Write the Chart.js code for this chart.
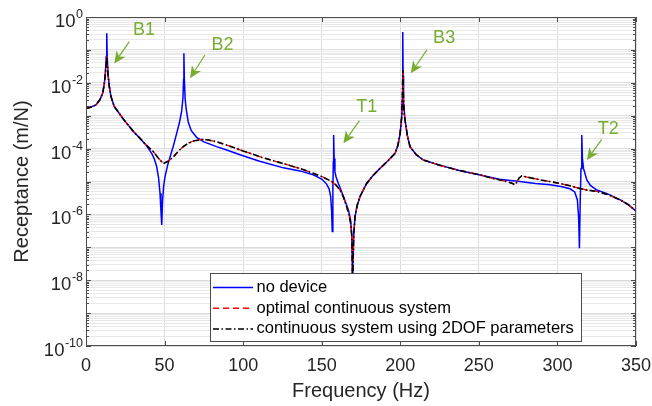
<!DOCTYPE html>
<html><head><meta charset="utf-8">
<script src="https://cdn.jsdelivr.net/npm/chart.js@4.4.1/dist/chart.umd.min.js"></script>
<style>html,body{margin:0;padding:0;background:#fff;}canvas{display:block;}</style>
</head><body>
<canvas id="c" width="652" height="406"></canvas>
<script>
// ---------- data ----------
const freqNoDevice = [0,3,6.4,9,10.6,11.6,12.3,12.9,13.2,13.5,14.0,14.8,15.9,18,21.2,24,27.6,30.5,33.9,38,41.8,43.5,45,46.2,47.1,47.7,48.2,48.7,49.4,50.3,52,53.5,55.6,57.7,59.5,60.9,61.7,62.1,62.3,62.6,63.1,63.7,65.1,67,70.4,75,83.1,90,98,110,125.6,136.2,145,150.2,153,154.7,155.7,156.3,156.7,157.1,157.4,157.6,157.9,158.4,159.1,160.6,162.2,163.8,165.5,167,168.3,169.1,169.5,169.7,169.9,170.4,171.2,172.6,174.4,176.5,178.6,182.5,187.1,192,196.7,198.5,199.9,200.9,201.3,201.5,201.65,201.8,202.1,203,204.5,206.2,210,214.7,224.3,237,250.8,263,276,286,295.4,303,308,311,312.7,313.5,314.0,314.5,315.0,315.5,315.9,316.6,318.7,321,325,332,340,345,350];
const recNoDevice = [1.66e-3,1.82e-3,2.14e-3,3.16e-3,4.8e-3,8.9e-3,1.95e-2,6.3e-2,3.2e-1,6.3e-2,1.95e-2,7.9e-3,3.8e-3,1.9e-3,1.17e-3,7.6e-4,4.7e-4,3.16e-4,2.19e-4,1.32e-4,7.2e-5,4.8e-5,2.8e-5,1.26e-5,4.4e-6,1.26e-6,4.8e-7,2.5e-6,7.1e-6,1.4e-5,3.2e-5,5.6e-5,1.2e-4,2.9e-4,6.3e-4,1.4e-3,3.5e-3,1.26e-2,7.9e-2,1.26e-2,3.2e-3,1.66e-3,6.3e-4,3.5e-4,2.2e-4,1.6e-4,1.15e-4,8.9e-5,6.5e-5,4.2e-5,2.6e-5,2.1e-5,1.58e-5,1.17e-5,8.5e-6,6.0e-6,3.5e-6,1.26e-6,3.0e-7,6.3e-6,4.0e-5,2.6e-4,5.0e-5,2.0e-5,1.4e-5,8.7e-6,5.6e-6,3.5e-6,2.1e-6,1.35e-6,7.1e-7,2.5e-7,2.5e-8,1e-9,2.5e-8,2.5e-7,8.5e-7,1.9e-6,3.5e-6,5.6e-6,8.7e-6,1.5e-5,2.5e-5,4.2e-5,7.2e-5,1.26e-4,2.9e-4,9.3e-4,3.2e-3,1.6e-2,3.5e-1,1.6e-2,2.5e-3,7.4e-4,2.5e-4,1.15e-4,6.6e-5,4.5e-5,3.2e-5,2.2e-5,1.58e-5,1.17e-5,1.0e-5,8.7e-6,7.9e-6,6.9e-6,6.0e-6,4.8e-6,2.75e-6,7.9e-7,9.3e-8,2.5e-6,2.5e-5,2.6e-4,5.0e-5,2.5e-5,1.12e-5,7.6e-6,5.5e-6,4.2e-6,2.75e-6,2.0e-6,1.26e-6];

const freqContinuous = [0,3,6.4,9,10.6,11.6,12.3,12.9,13.2,13.5,14.0,14.8,15.9,18,21.2,24,27.6,30.5,34.4,38.5,42.8,46,49.2,52.5,55.6,58.8,61.9,65,68.3,73.6,78,83.1,90,100,112,125.6,136,143,150.2,156.4,159,161.7,164,165.9,167.3,168.4,169.2,169.5,169.7,169.9,170.4,171.2,172.6,174.4,176.5,178.6,182.5,187.1,192,196.7,198.5,199.9,200.9,201.3,201.65,202.0,202.4,203,204.5,206.2,210,214.7,224.3,237,250.8,260,267.8,271,273,274.5,275.5,277.3,283,289,295,301.7,308,313.4,318.7,325,332,340,345,350];
const recOptimal = [1.66e-3,1.82e-3,2.14e-3,3.16e-3,4.8e-3,8.9e-3,1.78e-2,4.0e-2,6.3e-2,4.0e-2,1.78e-2,7.9e-3,3.8e-3,1.9e-3,1.17e-3,7.6e-4,4.7e-4,3.16e-4,2.04e-4,1.26e-4,8.1e-5,5.2e-5,3.5e-5,4.2e-5,5.6e-5,8.3e-5,1.15e-4,1.45e-4,1.7e-4,1.9e-4,1.82e-4,1.62e-4,1.26e-4,8.5e-5,5.4e-5,3.5e-5,2.5e-5,1.9e-5,1.4e-5,1.0e-5,7.9e-6,5.5e-6,3.2e-6,1.7e-6,1.0e-6,5.4e-7,2.0e-7,2.5e-8,1e-9,2.5e-8,2.5e-7,8.5e-7,1.9e-6,3.5e-6,5.6e-6,8.7e-6,1.5e-5,2.5e-5,4.2e-5,7.2e-5,1.26e-4,2.9e-4,9.3e-4,4.0e-3,2.45e-2,4.0e-3,1.26e-3,7.4e-4,2.5e-4,1.15e-4,6.6e-5,4.5e-5,3.2e-5,2.2e-5,1.58e-5,1.2e-5,1.0e-5,8.9e-6,7.9e-6,1.0e-5,1.26e-5,1.48e-5,1.29e-5,1.12e-5,1.0e-5,8.7e-6,7.4e-6,6.3e-6,5.5e-6,5.0e-6,4.0e-6,2.75e-6,2.0e-6,1.26e-6];
const rec2DOF = [1.66e-3,1.82e-3,2.14e-3,3.16e-3,4.8e-3,8.9e-3,1.78e-2,4.0e-2,6.3e-2,4.0e-2,1.78e-2,7.9e-3,3.8e-3,1.9e-3,1.17e-3,7.6e-4,4.7e-4,3.16e-4,2.04e-4,1.26e-4,8.1e-5,5.2e-5,3.5e-5,4.2e-5,5.6e-5,8.3e-5,1.15e-4,1.45e-4,1.7e-4,1.9e-4,1.82e-4,1.62e-4,1.26e-4,8.5e-5,5.4e-5,3.5e-5,2.5e-5,1.9e-5,1.4e-5,1.0e-5,7.9e-6,5.5e-6,3.2e-6,1.7e-6,1.0e-6,5.4e-7,2.0e-7,2.5e-8,1e-9,2.5e-8,2.5e-7,8.5e-7,1.9e-6,3.5e-6,5.6e-6,8.7e-6,1.5e-5,2.5e-5,4.2e-5,7.2e-5,1.26e-4,2.9e-4,9.3e-4,4.0e-3,2.45e-2,4.0e-3,1.26e-3,7.4e-4,2.5e-4,1.15e-4,6.6e-5,4.5e-5,3.2e-5,2.2e-5,1.58e-5,1.2e-5,1.0e-5,8.9e-6,7.9e-6,1.0e-5,1.26e-5,1.48e-5,1.29e-5,1.12e-5,1.0e-5,8.7e-6,7.4e-6,6.3e-6,5.5e-6,5.0e-6,4.0e-6,2.75e-6,2.0e-6,1.26e-6];

const xTickLabels = ['0','50','100','150','200','250','300','350'];
const xTickValues = [0,50,100,150,200,250,300,350];
const yTickExponents = [0,-2,-4,-6,-8,-10];
const seriesNames = ['no device','optimal continuous system','continuous system using 2DOF parameters'];
const xTitle = 'Frequency (Hz)';
const yTitle = 'Receptance (m/N)';

// peak annotations: label text, label anchor (Hz, m/N), arrow tail, arrow tip
const peakLabels = ['B1','B2','T1','B3','T2'];
const peakLabelPos = [[36.9,0.403],[86.9,0.141],[178.7,1.86e-3],[227.9,0.229],[332.3,3.98e-4]];
const peakArrowTail = [[27.6,0.178],[75.7,0.070],[174.0,7.1e-4],[216.9,0.100],[328.2,1.9e-4]];
const peakArrowTip  = [[18.0,0.0389],[66.2,0.0138],[163.8,1.45e-4],[206.7,0.0195],[318.7,4.47e-5]];

// ---------- styling ----------
const FONT = '"Liberation Sans", Arial, Helvetica, sans-serif';
const TEXT = '#262626';
const GREEN = '#77AC30';
const COLORS = ['#0000FF','#FF0000','#000000'];
const DASHES = [[],[6,4],[6,2.5,1.5,2.5]];
const WIDTHS = [1.5,1.3,1.6];

function pts(xs, ys){ return xs.map((f,i)=>({x:f,y:ys[i]})); }
function isDecade(v){ const l=Math.log10(v); return Math.abs(l-Math.round(l))<1e-6; }

const decor = {
  id:'decor',
  afterDatasetsDraw(chart){
    const {ctx, chartArea:a, scales:{x,y}} = chart;
    ctx.save();
    // axes box
    ctx.strokeStyle='#4d4d4d'; ctx.lineWidth=1; ctx.setLineDash([]);
    ctx.strokeRect(Math.round(a.left)+0.5, Math.round(a.top)+0.5, Math.round(a.right-a.left)-1, Math.round(a.bottom-a.top)-1);
    // x ticks (inside, top & bottom)
    ctx.beginPath();
    xTickValues.forEach(v=>{
      const px=Math.round(x.getPixelForValue(v))+0.5;
      ctx.moveTo(px,a.bottom); ctx.lineTo(px,a.bottom-5);
      ctx.moveTo(px,a.top); ctx.lineTo(px,a.top+5);
    });
    // y ticks (inside, left & right)
    y.ticks.forEach(t=>{
      const py=Math.round(y.getPixelForValue(t.value))+0.5;
      const L = isDecade(t.value)?5:3;
      ctx.moveTo(a.left,py); ctx.lineTo(a.left+L,py);
      ctx.moveTo(a.right,py); ctx.lineTo(a.right-L,py);
    });
    ctx.stroke();

    // peak annotations
    ctx.fillStyle=GREEN; ctx.strokeStyle=GREEN;
    ctx.font=`18px ${FONT}`; ctx.textAlign='center'; ctx.textBaseline='middle';
    peakLabels.forEach((lab,i)=>{
      ctx.fillText(lab, x.getPixelForValue(peakLabelPos[i][0]), y.getPixelForValue(peakLabelPos[i][1]));
      const tx=x.getPixelForValue(peakArrowTail[i][0]), ty=y.getPixelForValue(peakArrowTail[i][1]);
      const hx=x.getPixelForValue(peakArrowTip[i][0]), hy=y.getPixelForValue(peakArrowTip[i][1]);
      const dx=hx-tx, dy=hy-ty, len=Math.hypot(dx,dy), ux=dx/len, uy=dy/len, nx=-uy, ny=ux;
      const HL=12, HW=5.5, NOTCH=8.5;
      ctx.lineWidth=1.2;
      ctx.beginPath(); ctx.moveTo(tx,ty); ctx.lineTo(hx-ux*NOTCH,hy-uy*NOTCH); ctx.stroke();
      ctx.beginPath();
      ctx.moveTo(hx,hy);
      ctx.lineTo(hx-ux*HL+nx*HW, hy-uy*HL+ny*HW);
      ctx.lineTo(hx-ux*NOTCH, hy-uy*NOTCH);
      ctx.lineTo(hx-ux*HL-nx*HW, hy-uy*HL-ny*HW);
      ctx.closePath(); ctx.fill();
    });

    // legend box (inside axes, on top of the lines)
    const lx=a.left+124, ly=a.top+256, lw=371, lh=68;
    ctx.fillStyle='#fff'; ctx.fillRect(lx,ly,lw,lh);
    ctx.strokeStyle='#4d4d4d'; ctx.lineWidth=1;
    ctx.strokeRect(lx+0.5,ly+0.5,lw,lh);
    ctx.font=`16.5px ${FONT}`; ctx.textAlign='left'; ctx.textBaseline='middle';
    seriesNames.forEach((name,i)=>{
      const ry = ly+14.5+i*20.7;
      ctx.strokeStyle=COLORS[i]; ctx.lineWidth=1.5; ctx.setLineDash(DASHES[i]);
      ctx.beginPath(); ctx.moveTo(lx+3,ry); ctx.lineTo(lx+43,ry); ctx.stroke();
      ctx.setLineDash([]);
      ctx.fillStyle='#000'; ctx.fillText(name, lx+46.5, ry);
    });
    ctx.restore();
  },
  afterDraw(chart){
    const {ctx, chartArea:a, scales:{x,y}} = chart;
    ctx.save();
    ctx.fillStyle=TEXT;
    // x tick labels
    ctx.font=`18px ${FONT}`; ctx.textAlign='center'; ctx.textBaseline='middle';
    xTickValues.forEach((v,i)=>ctx.fillText(xTickLabels[i], x.getPixelForValue(v), a.bottom+20));
    // y tick labels 10^e
    yTickExponents.forEach(e=>{
      const py=y.getPixelForValue(Math.pow(10,e));
      const es=String(e);
      ctx.font=`12.5px ${FONT}`; const ew=ctx.measureText(es).width;
      ctx.textAlign='left'; ctx.textBaseline='middle';
      ctx.fillText(es, a.left-3-ew, py-2.5);
      ctx.font=`18.5px ${FONT}`; ctx.textAlign='right';
      ctx.fillText('10', a.left-3-ew-0.5, py+5);
    });
    // axis titles
    ctx.font=`20px ${FONT}`; ctx.textAlign='center'; ctx.textBaseline='middle';
    ctx.fillText(xTitle, (a.left+a.right)/2, a.bottom+45);
    ctx.translate(22,(a.top+a.bottom)/2); ctx.rotate(-Math.PI/2);
    ctx.fillText(yTitle,0,0);
    ctx.restore();
  }
};

new Chart(document.getElementById('c'), {
  type:'line',
  data:{ datasets:[
    {label:seriesNames[0], data:pts(freqNoDevice,recNoDevice), borderColor:COLORS[0], borderWidth:WIDTHS[0], borderDash:DASHES[0], pointRadius:0, tension:0, order:2},
    {label:seriesNames[1], data:pts(freqContinuous,recOptimal), borderColor:COLORS[1], borderWidth:WIDTHS[1], borderDash:DASHES[1], pointRadius:0, tension:0, order:1},
    {label:seriesNames[2], data:pts(freqContinuous,rec2DOF), borderColor:COLORS[2], borderWidth:WIDTHS[2], borderDash:DASHES[2], pointRadius:0, tension:0, order:0}
  ]},
  options:{
    responsive:false, animation:false, devicePixelRatio:1,
    layout:{padding:{left:86,top:17,right:16,bottom:60}},
    plugins:{legend:{display:false}, tooltip:{enabled:false}},
    scales:{
      x:{type:'linear', min:0, max:350,
         afterBuildTicks:s=>{ s.ticks = xTickValues.map(v=>({value:v})); },
         ticks:{display:false}, border:{display:false},
         grid:{drawTicks:false, color:'#dcdcdc', lineWidth:1}},
      y:{type:'logarithmic', min:1e-10, max:1,
         afterBuildTicks:s=>{ const t=[]; for(let e=-10;e<=0;e++){ for(let m=1;m<=9;m++){ const v=m*Math.pow(10,e); if(v<=1) t.push({value:v}); } } s.ticks=t; },
         ticks:{display:false}, border:{display:false},
         grid:{drawTicks:false, lineWidth:1, color:c=> (c.tick && isDecade(c.tick.value)) ? '#dcdcdc' : '#e8e8e8'}}
    }
  },
  plugins:[decor]
});
</script>
</body></html>
